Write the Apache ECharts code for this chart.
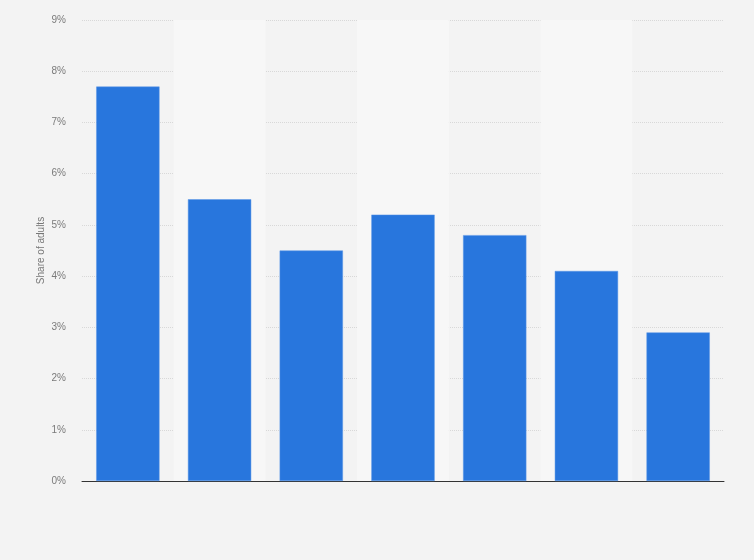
<!DOCTYPE html>
<html lang="en" style="height: 100%">
<head>
    <meta http-equiv="Content-Type" content="text/html; charset=utf-8"/>
    <title>Share of adults</title>
    <script type="text/javascript" src="https://cdn.jsdelivr.net/npm/echarts@6/dist/echarts.min.js"></script>
</head>
<body style="height: 100%; margin: 0; background: #f3f3f3">
<div id="container" style="width: 754px; height: 560px"></div>
<script type="text/javascript">
    // categories have no visible labels in the picture
    var categories = ['1', '2', '3', '4', '5', '6', '7'];
    var shareValues = [7.7, 5.5, 4.5, 5.2, 4.8, 4.1, 2.9];
    var yTicks = [0, 1, 2, 3, 4, 5, 6, 7, 8, 9];

    var myChart = echarts.init(document.getElementById('container'));
    var option = {
        backgroundColor: '#f3f3f3',
        animation: false,
        grid: {left: 82, right: 30, top: 20, bottom: 79, containLabel: false},
        xAxis: {
            type: 'category',
            data: categories,
            axisLabel: {show: false},
            axisTick: {show: false},
            axisLine: {lineStyle: {color: '#333333', width: 1}},
            splitArea: {show: true, areaStyle: {color: ['rgba(0,0,0,0)', '#f7f7f7']}}
        },
        yAxis: {
            type: 'value',
            min: yTicks[0],
            max: yTicks[yTicks.length - 1],
            interval: 1,
            name: 'Share of adults',
            nameLocation: 'middle',
            nameGap: 36,
            nameMoveOverlap: false,
            nameTextStyle: {color: '#777777', fontSize: 10, fontFamily: 'Liberation Sans'},
            axisLine: {show: false},
            axisTick: {show: false},
            axisLabel: {
                formatter: '{value}%',
                color: '#7a7a7a',
                fontSize: 10,
                margin: 16,
                fontFamily: 'Liberation Sans'
            },
            splitLine: {lineStyle: {color: '#d8d8d8', type: 'dotted'}}
        },
        series: [{
            type: 'bar',
            data: shareValues,
            barWidth: '69%',
            itemStyle: {color: '#2876dd', borderColor: '#5b97e6', borderWidth: 0.5}
        }]
    };
    myChart.setOption(option);
</script>
</body>
</html>
